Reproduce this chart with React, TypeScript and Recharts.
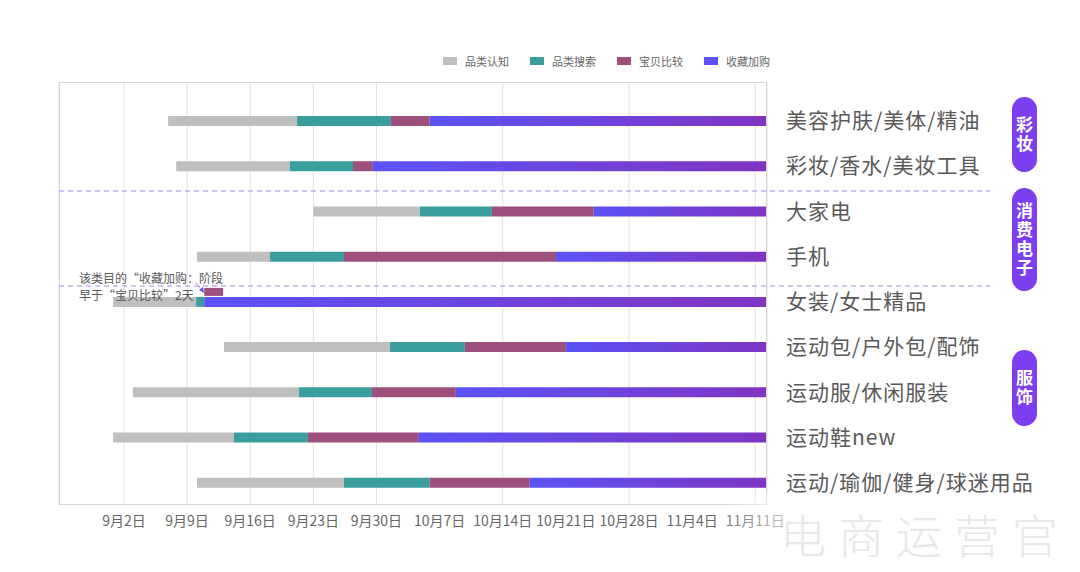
import React from "react";
import { BarChart, Bar, XAxis, YAxis, CartesianGrid } from "recharts";

// days counted from 8月26日 (day 7 = 9月2日)
const categories = [
  "美容护肤/美体/精油",
  "彩妆/香水/美妆工具",
  "大家电",
  "手机",
  "女装/女士精品",
  "运动包/户外包/配饰",
  "运动服/休闲服装",
  "运动鞋new",
  "运动/瑜伽/健身/球迷用品",
];

const grayStart = [11.9, 12.8, 28.0, 15.1, 5.8, 18.1, 8.0, 5.8, 15.1];
const tealStart = [26.2, 25.4, 39.8, 23.2, 15.0, 36.5, 26.4, 19.2, 31.4];
const maroonStart = [36.6, 32.4, 47.8, 31.4, 15.9, 44.8, 34.5, 27.4, 40.9];
const blueStart = [40.9, 34.6, 59.1, 54.9, 15.9, 56.0, 43.8, 39.7, 52.0];
const endDay = [78.3, 78.3, 78.3, 78.3, 78.3, 78.3, 78.3, 78.3, 78.3];

// 女装: 宝贝比较 drawn above the bar, 2 days
const raisedStart = [null, null, null, null, 15.9, null, null, null, null];
const raisedEnd = [null, null, null, null, 18.0, null, null, null, null];

const dayTicks = [7, 14, 21, 28, 35, 42, 49, 56, 63, 70, 77];

const seriesNames = ["品类认知", "品类搜索", "宝贝比较", "收藏加购"];
const seriesColors = ["#bfbfbf", "#3a9d9e", "#9e507c", "#5d52f5"];

const data = categories.map((name, i) => ({
  name,
  offset: grayStart[i],
  gray: tealStart[i] - grayStart[i],
  teal: maroonStart[i] - tealStart[i],
  maroon: blueStart[i] - maroonStart[i],
  blue: endDay[i] - blueStart[i],
  raisedOffset: raisedStart[i] ?? 0,
  raised: raisedStart[i] == null ? 0 : (raisedEnd[i] as number) - (raisedStart[i] as number),
}));

const fmtDay = (d: number) => {
  const dt = new Date(2020, 7, 26 + d);
  return `${dt.getMonth() + 1}月${dt.getDate()}日`;
};

const FONT = "'Noto Sans CJK SC', 'Noto Sans', sans-serif";

const RightTick = (props: any) => {
  const { x, y, payload } = props;
  return (
    <text x={x + 19} y={y} dy="0.36em" textAnchor="start" fontSize={21} letterSpacing={1} fill="#595959" fontFamily={FONT}>
      {payload.value}
    </text>
  );
};

const RaisedShape = (props: any) => {
  const { x, y, width, height } = props;
  if (!width || width <= 0) return null;
  return <rect x={x} y={y - 10} width={width} height={height} fill={seriesColors[2]} />;
};

const groups = [
  { label: "彩妆", top: 97, height: 75 },
  { label: "消费电子", top: 188, height: 103 },
  { label: "服饰", top: 350, height: 76 },
];

export default function App() {
  return (
    <div style={{ position: "absolute", left: 0, top: 0, width: 1080, height: 572, background: "#fff", fontFamily: FONT, overflow: "hidden" }}>
      <BarChart
        width={1080}
        height={572}
        data={data}
        layout="vertical"
        margin={{ top: 82, right: 13, bottom: 37, left: 59 }}
        barCategoryGap={0}
      >
        <defs>
          <linearGradient id="blueGrad" x1="0" y1="0" x2="1" y2="0">
            <stop offset="0%" stopColor="#5b53f7" />
            <stop offset="100%" stopColor="#8034c2" />
          </linearGradient>
        </defs>
        <CartesianGrid horizontal={false} stroke="#e2e2e2" />
        <XAxis
          type="number"
          domain={[-0.2, 78.3]}
          ticks={dayTicks}
          tickFormatter={fmtDay}
          allowDataOverflow
          tickLine={false}
          axisLine={false}
          tickSize={0}
          tickMargin={11}
          height={30}
          tick={{ fontSize: 14, fill: "#666", fontFamily: FONT }}
        />
        <YAxis
          type="category"
          dataKey="name"
          orientation="right"
          width={300}
          tickLine={false}
          axisLine={false}
          tickSize={0}
          tickMargin={0}
          padding={{ top: 16, bottom: 0 }}
          tick={<RightTick />}
          interval={0}
        />
        <YAxis yAxisId="b" type="category" dataKey="name" hide padding={{ top: 16, bottom: 0 }} />
        <Bar dataKey="offset" stackId="a" fill="transparent" barSize={10} isAnimationActive={false} />
        <Bar dataKey="gray" stackId="a" fill={seriesColors[0]} barSize={10} isAnimationActive={false} />
        <Bar dataKey="teal" stackId="a" fill={seriesColors[1]} barSize={10} isAnimationActive={false} />
        <Bar dataKey="maroon" stackId="a" fill={seriesColors[2]} barSize={10} isAnimationActive={false} />
        <Bar dataKey="blue" stackId="a" fill="url(#blueGrad)" barSize={10} isAnimationActive={false} />
        <Bar dataKey="raisedOffset" yAxisId="b" stackId="b" fill="transparent" barSize={8} isAnimationActive={false} />
        <Bar dataKey="raised" yAxisId="b" stackId="b" barSize={8} shape={<RaisedShape />} isAnimationActive={false} />
      </BarChart>

      {/* plot frame */}
      <div style={{ position: "absolute", left: 59, top: 82, width: 708, height: 423, border: "1px solid #d6d6d6", boxSizing: "border-box", pointerEvents: "none" }} />

      {/* legend */}
      <div style={{ position: "absolute", top: 53, left: 443, display: "flex", gap: 21, fontSize: 11, color: "#666" }}>
        {seriesNames.map((n, i) => (
          <div key={n} style={{ display: "flex", alignItems: "center", gap: 8, height: 16 }}>
            <div style={{ width: 14, height: 8, background: seriesColors[i] }} />
            <span>{n}</span>
          </div>
        ))}
      </div>

      {/* group separators + annotation arrow */}
      <svg style={{ position: "absolute", left: 0, top: 0 }} width={1080} height={572}>
        <line x1={59} x2={990} y1={191} y2={191} stroke="#a585f0" strokeDasharray="5 4" strokeWidth={1} />
        <line x1={59} x2={990} y1={286} y2={286} stroke="#a585f0" strokeDasharray="5 4" strokeWidth={1} />
        <line x1={196} y1={283} x2={202} y2={290} stroke="#6a4ef0" strokeDasharray="2 2" strokeWidth={1} />
        <path d="M204,293 L199,290 L203,287 Z" fill="#6a4ef0" />
      </svg>

      {/* annotation */}
      <div style={{ position: "absolute", left: 79, top: 269, fontSize: 12, lineHeight: "17px", color: "#595959" }}>
        <div>该类目的“收藏加购：阶段</div>
        <div>早于“宝贝比较”2天</div>
      </div>

      {/* group pills */}
      {groups.map((g) => (
        <div
          key={g.label}
          style={{
            position: "absolute",
            left: 1012,
            top: g.top,
            width: 25,
            height: g.height,
            borderRadius: 13,
            background: "#7b3ff0",
            display: "flex",
            alignItems: "center",
            justifyContent: "center",
          }}
        >
          <span
            style={{
              writingMode: "vertical-rl",
              textOrientation: "upright",
              color: "#fff",
              fontWeight: 700,
              fontSize: 17,
              letterSpacing: 2,
              lineHeight: "25px",
            }}
          >
            {g.label}
          </span>
        </div>
      ))}

      {/* watermark */}
      <div
        style={{
          position: "absolute",
          left: 715,
          top: 494,
          width: 365,
          height: 78,
          background: "linear-gradient(to right, rgba(255,255,255,0) 0%, rgba(255,255,255,0.8) 25%, rgba(255,255,255,0.9) 100%)",
          display: "flex",
          alignItems: "center",
          justifyContent: "flex-end",
          fontSize: 46,
          letterSpacing: 12,
          color: "#e8e8e8",
          fontFamily: "'Noto Sans CJK SC', sans-serif",
          fontWeight: 300,
          paddingRight: 10,
          boxSizing: "border-box",
        }}
      >
        电商运营官
      </div>
    </div>
  );
}
